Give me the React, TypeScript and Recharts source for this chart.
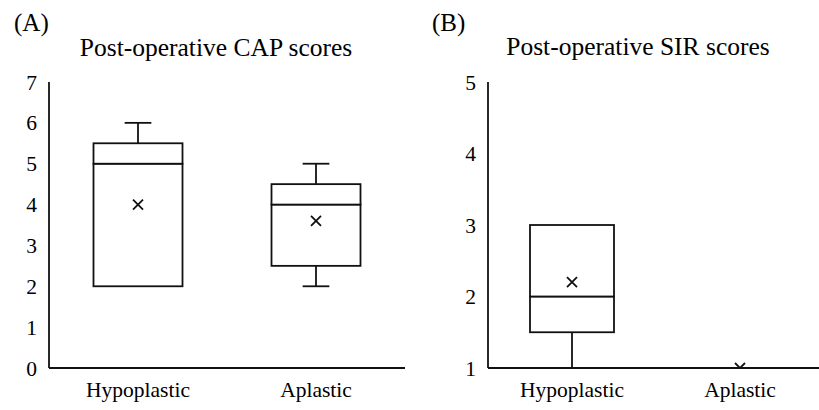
import { ComposedChart, Bar, Line, XAxis, YAxis } from 'recharts'

const FONT = '"Liberation Serif", "Times New Roman", Times, serif'
const INK = '#111'
const LW = 1.8

const categories = ['Hypoplastic', 'Aplastic']

// (A) post-operative CAP scores
const capMin = [2, 2]
const capQ1 = [2, 2.5]
const capMedian = [5, 4]
const capQ3 = [5.5, 4.5]
const capMax = [6, 5]
const capMean = [4, 3.6]
const capTicks = [0, 1, 2, 3, 4, 5, 6, 7]

// (B) post-operative SIR scores
const sirMin = [1, 1]
const sirQ1 = [1.5, 1]
const sirMedian = [2, 1]
const sirQ3 = [3, 1]
const sirMax = [3, 1]
const sirMean = [2.2, 1]
const sirTicks = [1, 2, 3, 4, 5]

// stacked segments: base -> lower whisker -> lower box -> upper box -> upper whisker
function buildRows(
  min: number[], q1: number[], med: number[], q3: number[], max: number[], mean: number[]
) {
  return categories.map((name, i) => ({
    name,
    base: min[i],
    lowWhisker: q1[i] - min[i],
    lowBox: med[i] - q1[i],
    highBox: q3[i] - med[i],
    highWhisker: max[i] - q3[i],
    mean: mean[i],
  }))
}

const capRows = buildRows(capMin, capQ1, capMedian, capQ3, capMax, capMean)
const sirRows = buildRows(sirMin, sirQ1, sirMedian, sirQ3, sirMax, sirMean)

function Empty() {
  return <g />
}

function BoxPart(props: any) {
  const { x, y, width, height } = props
  if (!(height > 0)) return <g />
  return <rect x={x} y={y} width={width} height={height} fill="#fff" stroke={INK} strokeWidth={LW} />
}

function LowWhisker(props: any) {
  const { x, y, width, height } = props
  if (!(height > 0)) return <g />
  const cx = x + width / 2
  const cap = width * 0.15
  return (
    <g stroke={INK} strokeWidth={LW}>
      <line x1={cx} x2={cx} y1={y} y2={y + height} />
      <line x1={cx - cap} x2={cx + cap} y1={y + height} y2={y + height} />
    </g>
  )
}

function HighWhisker(props: any) {
  const { x, y, width, height } = props
  if (!(height > 0)) return <g />
  const cx = x + width / 2
  const cap = width * 0.15
  return (
    <g stroke={INK} strokeWidth={LW}>
      <line x1={cx} x2={cx} y1={y} y2={y + height} />
      <line x1={cx - cap} x2={cx + cap} y1={y} y2={y} />
    </g>
  )
}

const renderMean = (p: any) => {
  const { cx, cy, index } = p
  const s = 5
  return (
    <path
      key={`mean-${index}`}
      d={`M${cx - s},${cy - s}L${cx + s},${cy + s}M${cx - s},${cy + s}L${cx + s},${cy - s}`}
      stroke={INK}
      strokeWidth={LW}
      fill="none"
    />
  )
}

interface BoxChartProps {
  rows: ReturnType<typeof buildRows>
  ticks: number[]
  width: number
  yAxisWidth: number
  rightMargin: number
}

function BoxChart({ rows, ticks, width, yAxisWidth, rightMargin }: BoxChartProps) {
  const domain: [number, number] = [ticks[0], ticks[ticks.length - 1]]
  return (
    <ComposedChart
      width={width}
      height={410}
      data={rows}
      margin={{ top: 82, right: rightMargin, bottom: 0, left: 0 }}
      barCategoryGap="25%"
    >
      <XAxis
        dataKey="name"
        type="category"
        interval={0}
        height={42}
        tickLine={false}
        tickSize={0}
        tickMargin={14}
        axisLine={{ stroke: INK, strokeWidth: LW }}
        tick={{ fill: '#000', fontSize: 21.5, fontFamily: FONT }}
      />
      <YAxis
        type="number"
        width={yAxisWidth}
        domain={domain}
        ticks={ticks}
        interval={0}
        allowDataOverflow
        tickLine={false}
        tickSize={0}
        tickMargin={12}
        axisLine={{ stroke: INK, strokeWidth: LW }}
        tick={{ fill: '#000', fontSize: 21.5, fontFamily: FONT }}
      />
      <Bar dataKey="base" stackId="box" shape={<Empty />} isAnimationActive={false} />
      <Bar dataKey="lowWhisker" stackId="box" shape={<LowWhisker />} isAnimationActive={false} />
      <Bar dataKey="lowBox" stackId="box" shape={<BoxPart />} isAnimationActive={false} />
      <Bar dataKey="highBox" stackId="box" shape={<BoxPart />} isAnimationActive={false} />
      <Bar dataKey="highWhisker" stackId="box" shape={<HighWhisker />} isAnimationActive={false} />
      <Line
        dataKey="mean"
        stroke="none"
        dot={renderMean}
        activeDot={false}
        isAnimationActive={false}
      />
    </ComposedChart>
  )
}

export default function App() {
  return (
    <div
      style={{
        position: 'absolute',
        left: 0,
        top: 0,
        width: 819,
        height: 410,
        overflow: 'hidden',
        background: '#fff',
      }}
    >
      <div style={{ position: 'absolute', left: 0, top: 0 }}>
        <BoxChart rows={capRows} ticks={capTicks} width={410} yAxisWidth={49} rightMargin={5} />
      </div>
      <div style={{ position: 'absolute', left: 410, top: 0 }}>
        <BoxChart rows={sirRows} ticks={sirTicks} width={414} yAxisWidth={78} rightMargin={0} />
      </div>
      <svg
        width={819}
        height={410}
        style={{ position: 'absolute', left: 0, top: 0, pointerEvents: 'none' }}
      >
        <g fill="#000" fontFamily={FONT}>
          <text x={14} y={31} fontSize={25}>(A)</text>
          <text x={216} y={56} fontSize={25.5} textAnchor="middle">Post-operative CAP scores</text>
          <text x={432} y={31} fontSize={25}>(B)</text>
          <text x={638} y={55} fontSize={25.5} textAnchor="middle">Post-operative SIR scores</text>
        </g>
      </svg>
    </div>
  )
}
